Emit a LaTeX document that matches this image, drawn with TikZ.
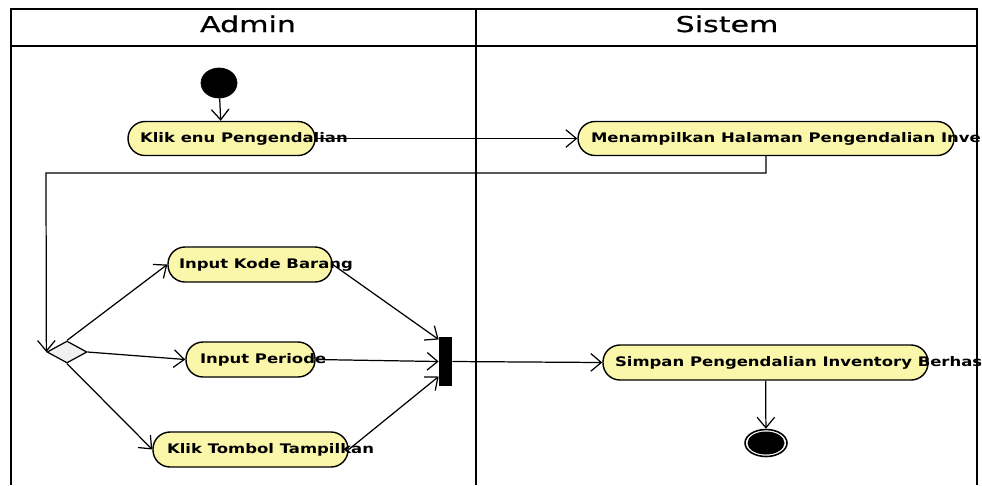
\documentclass[tikz,border=0pt]{standalone}
\usepackage{fontspec}
\newfontfamily\lanefont{DejaVu Sans}[FakeStretch=1.38,FakeBold=0.8]
\newfontfamily\actfont{DejaVu Sans Bold}[FakeStretch=1.25]
\usetikzlibrary{arrows.meta,shapes}
\newlength\px
\setlength\px{0.02cm}
\definecolor{aksi}{RGB}{250,246,170}
\definecolor{cabang}{RGB}{240,240,240}
\tikzset{
  action/.style={rectangle,draw,line width=0.8pt,fill=aksi,rounded corners=17\px,
    minimum height=34\px,inner sep=0pt,font=\actfont\fontsize{7.5pt}{9pt}\selectfont},
  lane/.style={line width=1.2pt},
  lanetext/.style={inner sep=0pt,font=\lanefont\fontsize{12.4pt}{14pt}\selectfont},
  flow/.style={-{Straight Barb[length=6pt,width=10pt]},line width=0.7pt}
}

\begin{document}
\begin{tikzpicture}[x=1\px,y=-1\px]
\useasboundingbox (0,0) rectangle (982,485);
% swimlanes
\draw[lane] (11,485) -- (11,9) -- (977,9) -- (977,485);
\draw[lane] (11,46) -- (977,46);
\draw[lane] (476,9) -- (476,485);
\node at (248,32) [anchor=base,lanetext] (admin) {Admin};
\node at (727,32) [anchor=base,lanetext] (sistem) {Sistem};

\node at (219,83) [ellipse,fill=black,draw,minimum width=36\px,minimum height=30\px,inner sep=0pt] (mulai) {};
\node at (221.5,138.5) [action,minimum width=187\px] (klik) {\makebox[163\px][l]{Klik enu Pengendalian}};
\node at (766,138.5) [action,minimum width=376\px] (tampil) {\makebox[350\px][l]{Menampilkan Halaman Pengendalian Inve}};
\node at (67,352) [diamond,draw,line width=0.7pt,fill=cabang,minimum width=40\px,minimum height=22\px,inner sep=0pt] (pilih) {};
\node at (250,264.5) [action,minimum width=164\px,minimum height=35\px] (kode) {\makebox[142\px][l]{Input Kode Barang}};
\node at (250.5,359.5) [action,minimum width=129\px,minimum height=35\px] (periode) {\makebox[101\px][l]{Input Periode}};
\node at (250.5,449.5) [action,minimum width=195\px,minimum height=35\px] (tombol) {\makebox[167\px][l]{Klik Tombol Tampilkan}};
\node at (445.5,361.5) [rectangle,fill=black,minimum width=13\px,minimum height=49\px,inner sep=0pt] (gabung) {};
\node at (765.5,362.5) [action,minimum width=325\px,minimum height=35\px] (simpan) {\makebox[301\px][l]{Simpan Pengendalian Inventory Berhas}};
\node at (766,443) [ellipse,draw,line width=0.9pt,minimum width=42\px,minimum height=27\px,inner sep=0pt,
  path picture={\fill (path picture bounding box.center) ellipse [x radius=18.5\px,y radius=11.5\px];}] (akhir) {};
\coordinate (belok) at (46,173);

\draw[flow] (mulai) -- (klik);
\draw[flow] (klik) -- (tampil);
\draw[flow] (tampil) |- (belok) -- (pilih.west);
\draw[flow] (pilih.north) -- (kode.west);
\draw[flow] (pilih.east) -- (periode.west);
\draw[flow] (pilih.south) -- (tombol.west);
\draw[flow] (kode.east) -- ([yshift=22\px]gabung.west);
\draw[flow] (periode.east) -- (gabung.west);
\draw[flow] (tombol.east) -- ([yshift=-15\px]gabung.west);
\draw[flow] (gabung.east) -- (simpan.west);
\draw[flow] (simpan) -- (akhir);
\end{tikzpicture}
\end{document}
